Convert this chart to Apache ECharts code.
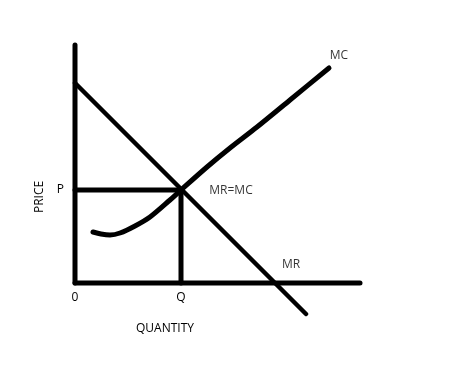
<!DOCTYPE html>
<html><head><meta charset="utf-8">
<script src="https://cdn.jsdelivr.net/npm/echarts@6/dist/echarts.min.js"></script>
<style>html,body{margin:0;padding:0;background:#fff}#c{width:449px;height:370px}</style>
</head><body><div id="c"></div>
<script>
// Data in chart units (quantity, price); origin at (0,0)
const axisX = [[0, 0], [285, 0]];
const axisY = [[0, 0], [0, 238]];
const mrLine = [[0, 200], [231, -31]];
const pLine = [[0, 93], [106, 93]];
const qLine = [[106, 93], [106, 0]];
const mcCurve = [[18, 51], [26, 49], [35, 48], [45, 50], [60, 57], [75, 66], [95, 83], [106, 93], [132, 116], [155, 135], [182, 156], [215, 183], [254, 215]];
const xTickValues = [0, 106];
const xTickLabels = ['0', 'Q'];
const yTickValues = [93];
const yTickLabels = ['P'];
const curveLabelNames = ['MC', 'MR', 'MR=MC'];
const curveLabelAt = [[264, 227], [216, 18], [156, 92]];
const xName = 'QUANTITY';
const yName = 'PRICE';

const chart = echarts.init(document.getElementById('c'), null, {renderer: 'canvas'});
const font = 'Open Sans';
const txt = '#000';
function seg(d, w) {
  return {type: 'line', data: d, symbol: 'none', clip: false, silent: true,
    lineStyle: {color: '#000', width: w, cap: 'round', join: 'round'}};
}
const mc = seg(mcCurve, 5); mc.smooth = 0.3;
chart.setOption({
  animation: false,
  backgroundColor: '#fff',
  grid: {left: 75, top: 43, width: 290, height: 275},
  xAxis: {type: 'value', min: 0, max: 290, offset: -35,
    axisLine: {show: false, onZero: false}, axisTick: {show: false}, splitLine: {show: false},
    axisLabel: {customValues: xTickValues, margin: 9, fontFamily: font, fontSize: 12, color: txt,
      formatter: v => xTickLabels[xTickValues.indexOf(v)] || ''}},
  yAxis: {type: 'value', min: -35, max: 240,
    axisLine: {show: false, onZero: false}, axisTick: {show: false}, splitLine: {show: false},
    axisLabel: {customValues: yTickValues, margin: 11, fontFamily: font, fontSize: 12, color: txt,
      formatter: v => yTickLabels[yTickValues.indexOf(v)] || ''}},
  graphic: [
    {type: 'text', left: 136, top: 323, style: {text: xName, font: '12px "Open Sans"', fill: txt}},
    {type: 'text', x: 34, y: 213, rotation: Math.PI / 2, style: {text: yName, font: '12px "Open Sans"', fill: txt}}
  ],
  series: [
    seg(axisY, 5), seg(axisX, 5), seg(mrLine, 4.5), seg(pLine, 5), seg(qLine, 5), mc,
    {type: 'scatter', symbolSize: 0, silent: true, clip: false,
      data: curveLabelNames.map((n, i) => ({value: curveLabelAt[i], name: n})),
      label: {show: true, position: 'inside', formatter: p => p.name, fontFamily: font, fontSize: 12, color: txt}}
  ]
});
</script></body></html>
